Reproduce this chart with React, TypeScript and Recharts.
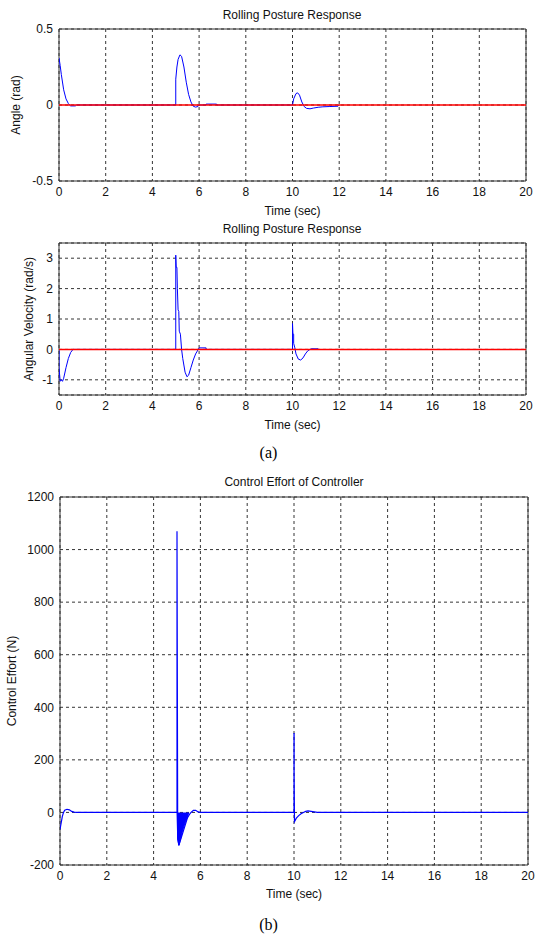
import {
  ComposedChart,
  Line,
  Area,
  XAxis,
  YAxis,
  CartesianGrid,
  ReferenceArea,
  Label,
} from 'recharts';

// time axis shared by all three plots
const xTicks = [0, 2, 4, 6, 8, 10, 12, 14, 16, 18, 20];

// rolling angle (rad)
const angleTime = [0, 0.05, 0.1, 0.2, 0.3, 0.4, 0.45, 0.5, 0.7, 0.75, 5.0, 5.0, 5.05, 5.1, 5.18, 5.25, 5.35, 5.45, 5.55, 5.65, 5.75, 5.85, 5.95, 6.0, 6.3, 6.3, 6.75, 6.75, 10.0, 10.05, 10.15, 10.22, 10.3, 10.4, 10.5, 10.6, 10.75, 10.9, 11.1, 11.3, 11.6, 11.95, 12.0];
const angleValue = [0.31, 0.26, 0.2, 0.1, 0.04, 0.01, 0, -0.006, -0.006, 0, 0, 0.17, 0.25, 0.3, 0.33, 0.32, 0.25, 0.15, 0.07, 0.02, -0.008, -0.014, -0.01, 0, 0, 0.006, 0.006, 0, 0, 0.04, 0.075, 0.08, 0.065, 0.02, -0.01, -0.022, -0.025, -0.02, -0.015, -0.012, -0.01, -0.008, 0];
const angleTicks = [-0.5, 0, 0.5];

// angular velocity (rad/s)
const velTime = [0, 0, 0.05, 0.1, 0.15, 0.2, 0.3, 0.4, 0.5, 0.6, 5.0, 5.0, 5.02, 5.05, 5.07, 5.1, 5.13, 5.15, 5.2, 5.25, 5.3, 5.4, 5.48, 5.55, 5.65, 5.75, 5.85, 5.95, 6.0, 6.3, 6.3, 10.0, 10.0, 10.02, 10.05, 10.05, 10.1, 10.15, 10.25, 10.35, 10.45, 10.55, 10.65, 10.75, 10.8, 11.1, 11.1];
const velValue = [0, -0.6, -1.05, -1.0, -1.05, -0.95, -0.6, -0.3, -0.1, 0, 0, 3.1, 2.7, 2.7, 2.0, 1.3, 1.25, 0.6, 0.5, 0, -0.3, -0.75, -0.9, -0.85, -0.6, -0.35, -0.15, -0.02, 0.05, 0.05, 0, 0, 0.85, 0.5, 0.5, 0.2, 0.05, -0.15, -0.32, -0.35, -0.28, -0.15, -0.05, 0, 0.02, 0.02, 0];
const velTicks = [-1, 0, 1, 2, 3];

// control effort (N)
const effortTime = [0, 0.05, 0.1, 0.15, 0.2, 0.3, 0.4, 0.5, 0.6, 0.7, 5.0, 5.0, 5.03, 5.08, 5.45, 5.55, 5.6, 5.7, 5.8, 5.9, 6.0, 10.0, 10.0, 10.005, 10.005, 10.02, 10.1, 10.2, 10.3, 10.4, 10.5, 10.6, 10.8, 11.0, 20];
const effortValue = [-65, -40, -15, 0, 8, 12, 10, 4, 1, 0, 0, 1070, -100, -125, -20, -5, 0, 8, 8, 2, 0, 0, 300, 300, 155, -35, -22, -12, -5, 0, 4, 6, 3, 0, 0];
// chattering band right after the 5 s disturbance
const chatterTime = [5.0, 5.03, 5.08, 5.12, 5.17, 5.22, 5.3, 5.38, 5.45, 5.5];
const chatterValue = [0, -100, -125, -112, -95, -75, -52, -32, -18, 0];
const effortTicks = [-200, 0, 200, 400, 600, 800, 1000, 1200];

const zip = (t: number[], v: number[]) => t.map((x, i) => ({ t: x, v: v[i] }));
const zeroLine = [{ t: 0, v: 0 }, { t: 20, v: 0 }];

const FONT = '"Liberation Sans", Arial, sans-serif';
const tickStyle = { fontSize: 12, fill: '#111', fontFamily: FONT };
const BLUE = '#0000ff';

function Title({ text, top, left }: { text: string; top: number; left: number }) {
  return (
    <div
      style={{
        position: 'absolute',
        top,
        left: left - 150,
        width: 300,
        textAlign: 'center',
        fontFamily: FONT,
        fontSize: 12,
        lineHeight: '14px',
        color: '#111',
      }}
    >
      {text}
    </div>
  );
}

function Caption({ text, top }: { text: string; top: number }) {
  return (
    <div
      style={{
        position: 'absolute',
        top,
        left: 0,
        width: 537,
        textAlign: 'center',
        fontFamily: '"Liberation Serif", "Times New Roman", serif',
        fontSize: 16,
        lineHeight: '18px',
        color: '#000',
      }}
    >
      {text}
    </div>
  );
}

interface PlotProps {
  top: number;
  height: number;
  axisWidth: number;
  right: number;
  xAxisHeight: number;
  timeOffset: number;
  yDomain: [number, number];
  yTicks: number[];
  yLabel: string;
  yLabelX: number;
  children: React.ReactNode;
}

function Plot({ top, height, axisWidth, right, xAxisHeight, timeOffset, yDomain, yTicks, yLabel, yLabelX, children }: PlotProps) {
  return (
    <div style={{ position: 'absolute', top, left: 0 }}>
      <ComposedChart width={535} height={height} margin={{ top: 29, right, left: 0, bottom: 0 }}>
        <CartesianGrid stroke="#000" strokeDasharray="3 3" strokeWidth={0.8} />
        <XAxis
          type="number"
          dataKey="t"
          domain={[0, 20]}
          ticks={xTicks}
          allowDataOverflow
          height={xAxisHeight}
          tickLine={false}
          axisLine={false}
          tickSize={4}
          tickMargin={2}
          tick={tickStyle}
        >
          <Label value="Time (sec)" position="insideBottom" offset={timeOffset} style={{ ...tickStyle, textAnchor: 'middle' }} />
        </XAxis>
        <YAxis
          type="number"
          domain={yDomain}
          ticks={yTicks}
          allowDataOverflow
          width={axisWidth}
          tickLine={false}
          axisLine={false}
          tickSize={4}
          tickMargin={2}
          tick={tickStyle}
        >
          <Label
            value={yLabel}
            angle={-90}
            position="insideLeft"
            offset={yLabelX}
            style={{ ...tickStyle, textAnchor: 'middle' }}
          />
        </YAxis>
        <ReferenceArea x1={0} x2={20} y1={yDomain[0]} y2={yDomain[1]} fill="none" stroke="#333" strokeWidth={1} fillOpacity={0} />
        {children}
      </ComposedChart>
    </div>
  );
}

export default function App() {
  return (
    <div style={{ position: 'absolute', top: 0, left: 0, width: 535, height: 940, background: '#fff' }}>
      <Title text="Rolling Posture Response" top={8} left={292} />
      <Plot
        top={0}
        height={220}
        axisWidth={59}
        right={9}
        xAxisHeight={39}
        timeOffset={5}
        yDomain={[-0.5, 0.5]}
        yTicks={angleTicks}
        yLabel="Angle (rad)"
        yLabelX={16}
      >
        <Line data={zip(angleTime, angleValue)} dataKey="v" type="linear" stroke={BLUE} strokeWidth={1} dot={false} isAnimationActive={false} />
        <Line data={zeroLine} dataKey="v" type="linear" stroke="#ff0000" strokeWidth={1.5} dot={false} isAnimationActive={false} />
      </Plot>

      <Title text="Rolling Posture Response" top={222} left={292} />
      <Plot
        top={214}
        height={220}
        axisWidth={59}
        right={9}
        xAxisHeight={39}
        timeOffset={5}
        yDomain={[-1.5, 3.5]}
        yTicks={velTicks}
        yLabel="Angular Velocity (rad/s)"
        yLabelX={29}
      >
        <Line data={zip(velTime, velValue)} dataKey="v" type="linear" stroke={BLUE} strokeWidth={1} dot={false} isAnimationActive={false} />
        <Line data={zeroLine} dataKey="v" type="linear" stroke="#ff0000" strokeWidth={1.5} dot={false} isAnimationActive={false} />
      </Plot>

      <Caption text="(a)" top={444} />

      <Title text="Control Effort of Controller" top={475} left={294} />
      <Plot
        top={468}
        height={440}
        axisWidth={60}
        right={7}
        xAxisHeight={43}
        timeOffset={10}
        yDomain={[-200, 1200]}
        yTicks={effortTicks}
        yLabel="Control Effort (N)"
        yLabelX={12}
      >
        <Area data={zip(chatterTime, chatterValue)} dataKey="v" type="linear" baseValue={0} stroke={BLUE} strokeWidth={1} fill={BLUE} fillOpacity={1} isAnimationActive={false} />
        <Line data={zip(effortTime, effortValue)} dataKey="v" type="linear" stroke={BLUE} strokeWidth={1.2} dot={false} isAnimationActive={false} />
      </Plot>

      <Caption text="(b)" top={916} />
    </div>
  );
}
